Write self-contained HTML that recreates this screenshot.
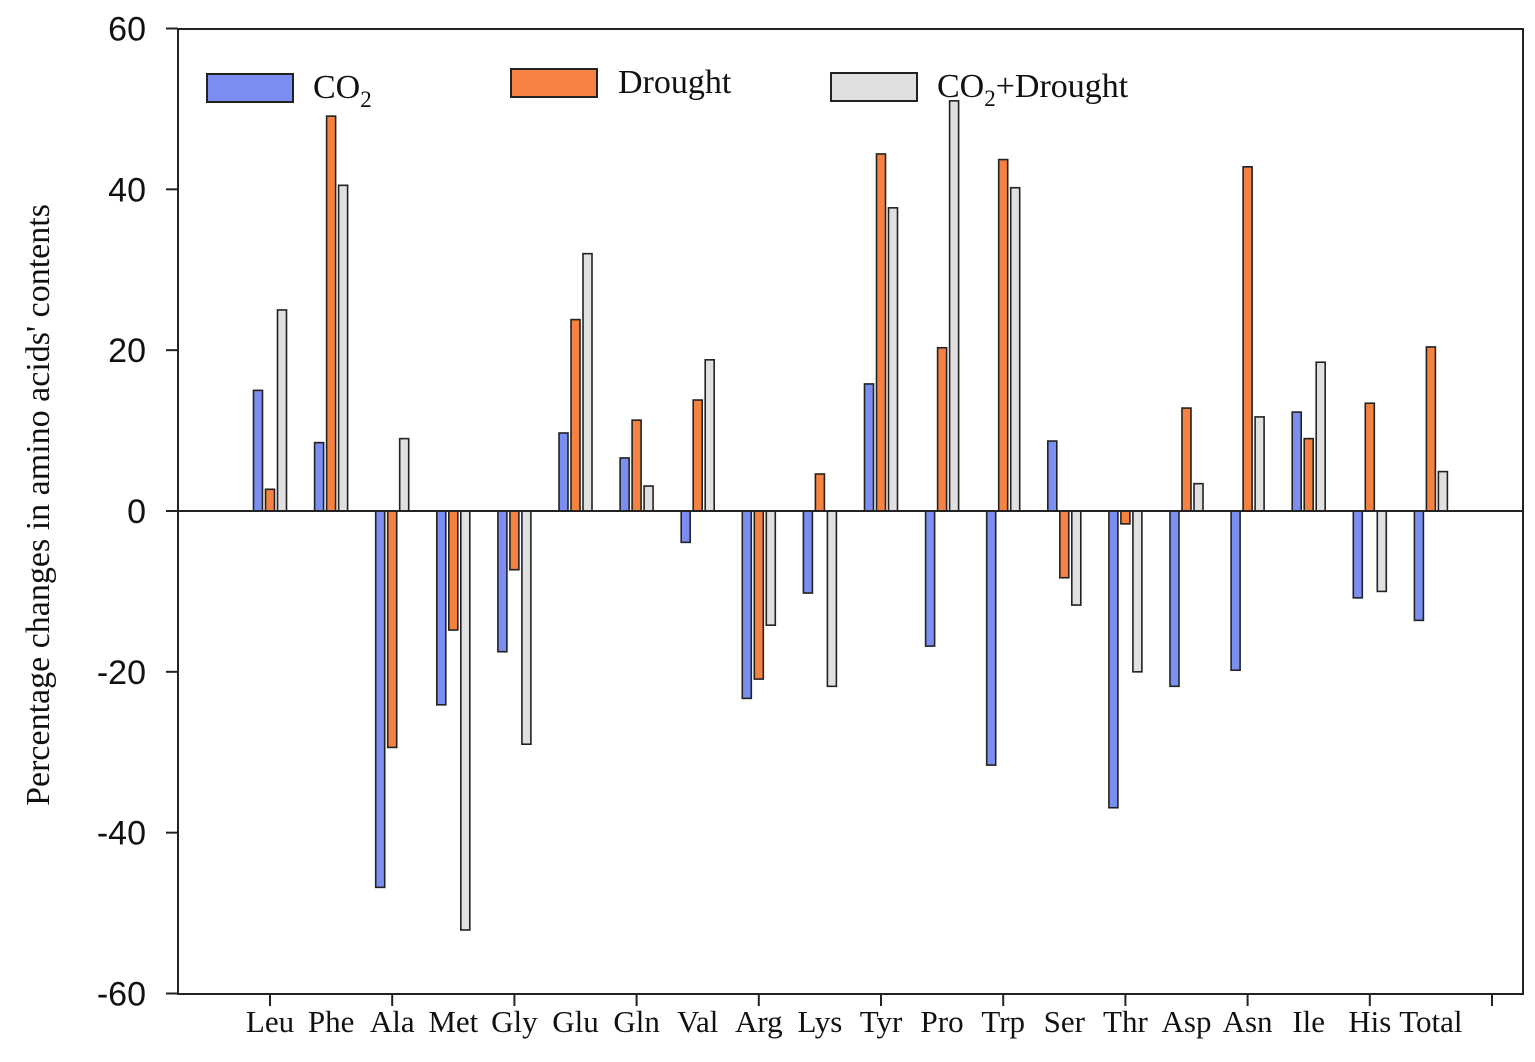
<!DOCTYPE html>
<html><head><meta charset="utf-8"><style>
body{margin:0;background:#fff;}
svg{display:block;}
</style></head><body>
<svg id="chart" width="1535" height="1062" xmlns="http://www.w3.org/2000/svg">
<g id="bars"></g>
<g id="axes"></g>
</svg>
<script>
const categories=["Leu","Phe","Ala","Met","Gly","Glu","Gln","Val","Arg","Lys","Tyr","Pro","Trp","Ser","Thr","Asp","Asn","Ile","His","Total"];
const co2=[15,8.5,-46.8,-24.1,-17.5,9.7,6.6,-3.9,-23.3,-10.2,15.8,-16.8,-31.6,8.7,-36.9,-21.8,-19.8,12.3,-10.8,-13.6];
const drought=[2.7,49.1,-29.4,-14.8,-7.3,23.8,11.3,13.8,-20.9,4.6,44.4,20.3,43.7,-8.3,-1.6,12.8,42.8,9,13.4,20.4];
const combo=[25,40.5,9,-52.1,-29,32,3.1,18.8,-14.2,-21.8,37.7,51,40.2,-11.7,-20,3.4,11.7,18.5,-10,4.9];
const yTicks=[60,40,20,0,-20,-40,-60];
const seriesNames=["CO2","Drought","CO2+Drought"];

const NS="http://www.w3.org/2000/svg";
const L=178,R=1523,T=29,B=994;
const y=v=>511-(v)*(B-T)/120;
const xc=i=>270+61.1*i;
function mk(tag,attrs,parent){const e=document.createElementNS(NS,tag);for(const k in attrs)e.setAttribute(k,attrs[k]);parent.appendChild(e);return e;}
const bars=document.getElementById('bars'),axes=document.getElementById('axes');
const series=[[co2,'#7b8ff2',-12,'co2'],[drought,'#f58240',0,'drought'],[combo,'#e0e0e0',12,'co2-drought']];
series.forEach(([vals,col,off,nm])=>{
 vals.forEach((v,i)=>{
  const x=xc(i)+off-4.5;
  const r=mk('rect',{x:x,y:Math.min(y(v),y(0)),width:9,height:Math.abs(y(v)-y(0)),fill:col,stroke:'#222','stroke-width':1.6},bars);
  
  
 });
});
let f=mk('rect',{x:L,y:T,width:R-L,height:B-T,fill:'none',stroke:'#222','stroke-width':2},axes);

let z=mk('line',{x1:L,x2:R,y1:y(0),y2:y(0),stroke:'#222','stroke-width':2},axes);

yTicks.forEach(t=>{
 mk('line',{x1:L-12,x2:L,y1:y(t),y2:y(t),stroke:'#222','stroke-width':2},axes);
 const tx=mk('text',{x:146,y:y(t)+12,'text-anchor':'end','font-family':'Liberation Sans, sans-serif','font-size':34,fill:'#111'},axes);
 tx.textContent=t;
 
 
});
for(let i=0;i<=20;i+=2){mk('line',{x1:xc(i),x2:xc(i),y1:B,y2:B+12,stroke:'#222','stroke-width':2},axes);}
categories.forEach((c,i)=>{
 const tx=mk('text',{x:xc(i),y:1032,'text-anchor':'middle','font-family':'Liberation Serif, serif','font-size':31,fill:'#111'},axes);
 tx.textContent=c;
 
 
});
const yt=mk('text',{x:0,y:0,transform:'translate(49,505) rotate(-90)','text-anchor':'middle','font-family':'Liberation Serif, serif','font-size':34,fill:'#111'},axes);
yt.textContent="Percentage changes in amino acids' contents";


const leg=[[207,74,'#7b8ff2',313,'CO',true,''],[511,69,'#f58240',618,'Drought',false,''],[831,73,'#e0e0e0',937,'CO',true,'+Drought']];
leg.forEach(([rx,ry,col,tx0,t,sub,rest],k)=>{
 const g=mk('g',{},axes);
 
 
 mk('rect',{x:rx,y:ry,width:86,height:28,fill:col,stroke:'#222','stroke-width':2},g);
 const tx=mk('text',{x:tx0,y:ry+24,'font-family':'Liberation Serif, serif','font-size':34,fill:'#111'},g);
 tx.textContent=t;
 if(sub){const s=mk('tspan',{dy:9,'font-size':23},tx);s.textContent='2';
  if(rest){const r=mk('tspan',{dy:-9},tx);r.textContent=rest;}}
});
</script>
</body></html>
